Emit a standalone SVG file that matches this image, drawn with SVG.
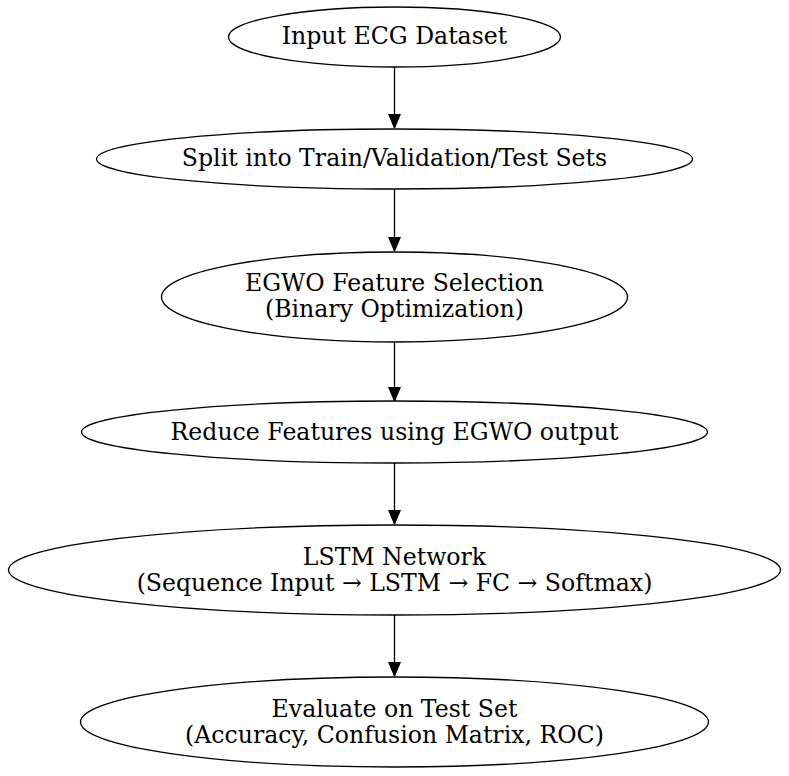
<svg xmlns="http://www.w3.org/2000/svg" width="789" height="776" viewBox="0 0 789 776">
<style>
.n ellipse{fill:#fff;stroke:#000;stroke-width:1.3}
.n text{font-family:"DejaVu Serif","Liberation Serif",serif;font-size:23.6px;text-anchor:middle;fill:#000}
.e line{stroke:#000;stroke-width:1.3}
</style>
<defs>
<marker id="ah" markerWidth="14" markerHeight="14" refX="12" refY="5" orient="auto" markerUnits="userSpaceOnUse" viewBox="0 0 12 10">
<path d="M0,0 L12,5 L0,10 Z" fill="#000" stroke="#000"/>
</marker>
</defs>
<rect width="789" height="776" fill="#fff"/>
<g id="edges" class="e">
<line x1="394.5" y1="67" x2="394.5" y2="128" marker-end="url(#ah)"/>
<line x1="394.5" y1="189" x2="394.5" y2="251" marker-end="url(#ah)"/>
<line x1="394.5" y1="342" x2="394.5" y2="401" marker-end="url(#ah)"/>
<line x1="394.5" y1="463" x2="394.5" y2="524" marker-end="url(#ah)"/>
<line x1="394.5" y1="615" x2="394.5" y2="676" marker-end="url(#ah)"/>
</g>
<g id="n1" class="n">
<ellipse cx="394.5" cy="37" rx="166" ry="30"/>
<text x="394.5" y="44">Input ECG Dataset</text>
</g>
<g id="n2" class="n">
<ellipse cx="394.5" cy="159" rx="298" ry="30"/>
<text x="394.5" y="166">Split into Train/Validation/Test Sets</text>
</g>
<g id="n3" class="n">
<ellipse cx="394.5" cy="297" rx="233" ry="45"/>
<text x="394.5" y="291">EGWO Feature Selection</text>
<text x="394.5" y="317">(Binary Optimization)</text>
</g>
<g id="n4" class="n">
<ellipse cx="394.5" cy="432" rx="313" ry="31"/>
<text x="394.5" y="440">Reduce Features using EGWO output</text>
</g>
<g id="n5" class="n">
<ellipse cx="394.5" cy="570" rx="386" ry="45"/>
<text x="394.5" y="565">LSTM Network</text>
<text x="394.5" y="591">(Sequence Input → LSTM → FC → Softmax)</text>
</g>
<g id="n6" class="n">
<ellipse cx="394.5" cy="722" rx="314" ry="45"/>
<text x="394.5" y="717">Evaluate on Test Set</text>
<text x="394.5" y="743">(Accuracy, Confusion Matrix, ROC)</text>
</g>
</svg>
